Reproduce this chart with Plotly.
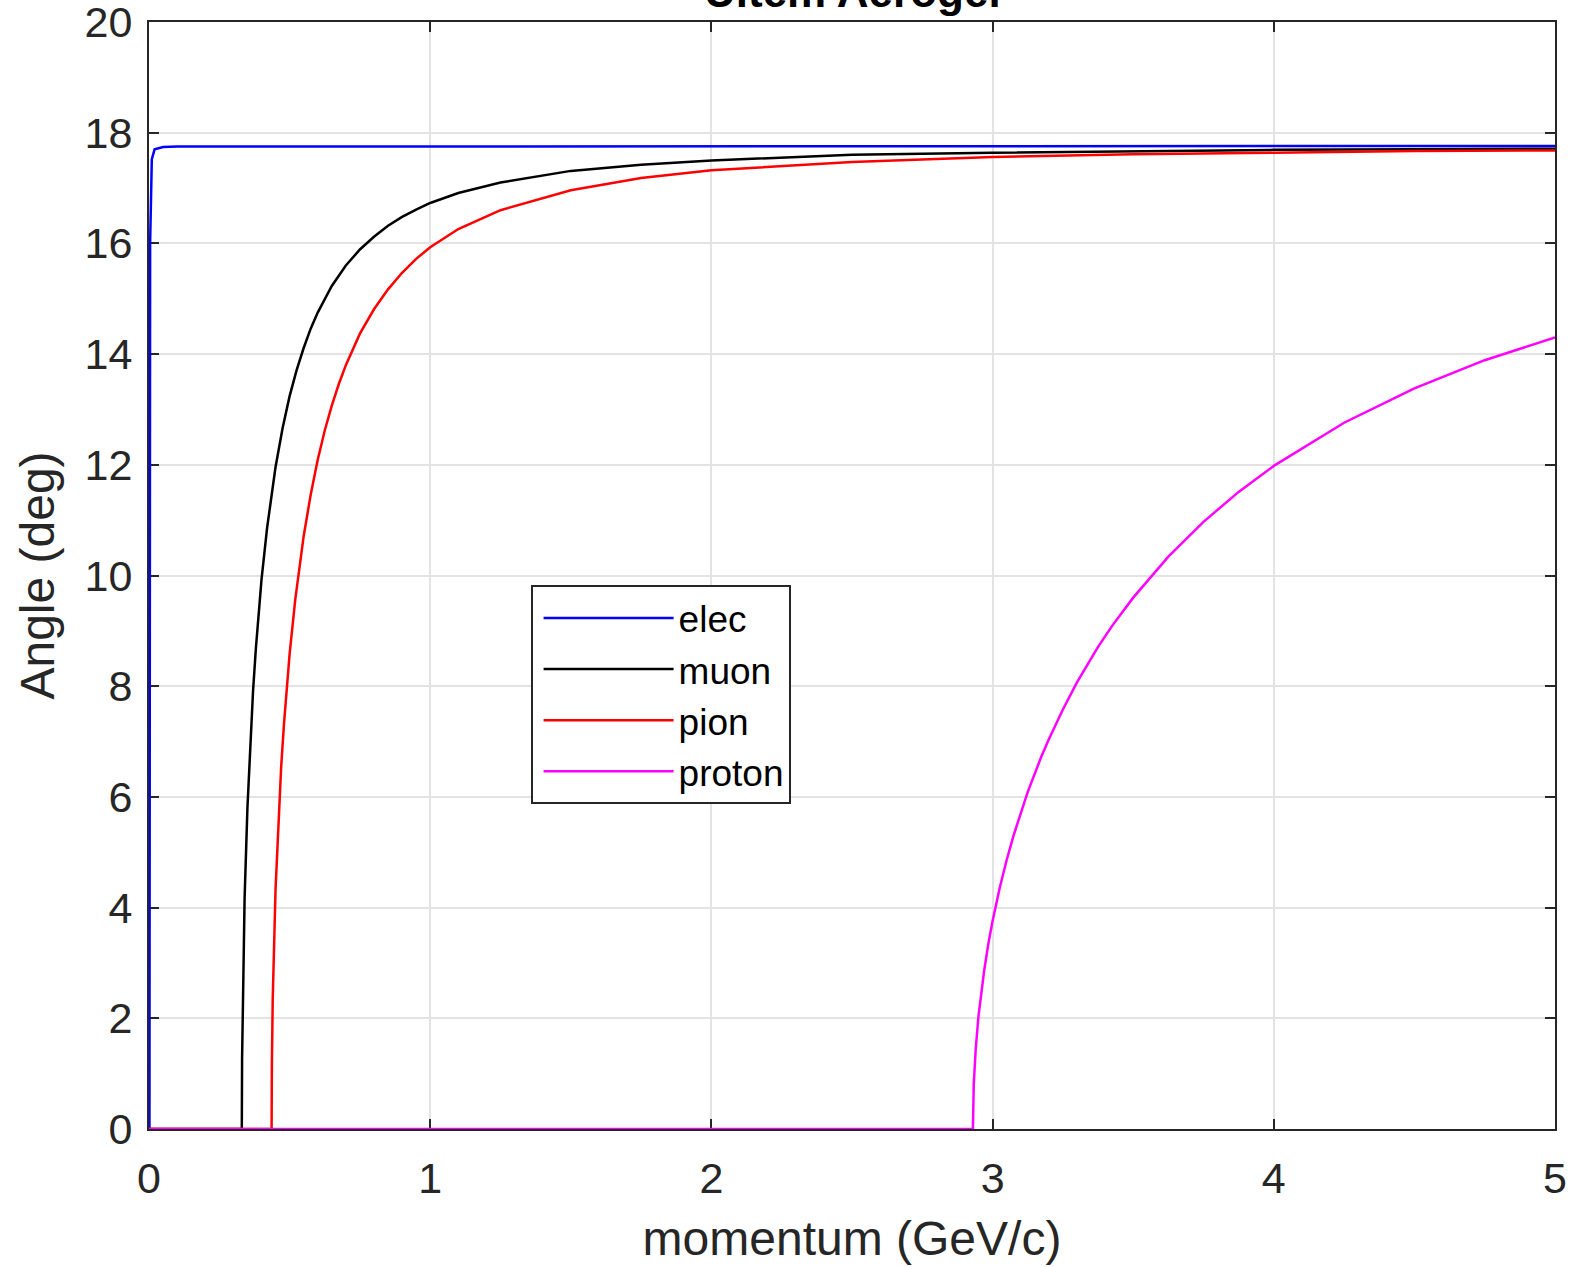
import plotly.graph_objects as go

# ---- data ----
elec_p = [0, 0.0016, 0.004, 0.01, 0.02, 0.05, 0.1, 5.0]
elec_angle = [0, 0, 16.0, 17.52, 17.7, 17.74, 17.75, 17.76]

muon_p = [0, 0.33, 0.331, 0.335, 0.34, 0.35, 0.36, 0.37, 0.38, 0.4, 0.42, 0.45, 0.475, 0.5, 0.525,
          0.55, 0.575, 0.6, 0.65, 0.7, 0.75, 0.8, 0.85, 0.9, 0.95, 1.0, 1.1, 1.25, 1.5, 1.75, 2.0,
          2.5, 3.0, 3.5, 4.0, 4.5, 5.0]
muon_angle = [0, 0, 1.26, 2.95, 4.18, 5.80, 6.98, 7.91, 8.68, 9.92, 10.86, 11.96, 12.66, 13.24,
              13.71, 14.11, 14.46, 14.75, 15.23, 15.60, 15.89, 16.12, 16.32, 16.48, 16.61, 16.73,
              16.91, 17.10, 17.31, 17.42, 17.50, 17.60, 17.64, 17.67, 17.69, 17.70, 17.71]

pion_p = [0, 0.436, 0.437, 0.44, 0.45, 0.46, 0.47, 0.48, 0.5, 0.52, 0.55, 0.575, 0.6, 0.625, 0.65,
          0.675, 0.7, 0.75, 0.8, 0.85, 0.9, 0.95, 1.0, 1.1, 1.25, 1.5, 1.75, 2.0, 2.5, 3.0, 3.5,
          4.0, 4.5, 5.0]
pion_angle = [0, 0, 1.15, 2.35, 4.33, 5.57, 6.54, 7.32, 8.58, 9.56, 10.71, 11.46, 12.09, 12.62,
              13.07, 13.46, 13.80, 14.37, 14.81, 15.17, 15.47, 15.72, 15.93, 16.26, 16.60, 16.96,
              17.18, 17.32, 17.47, 17.56, 17.61, 17.64, 17.67, 17.68]

proton_p = [0, 2.93, 2.933, 2.94, 2.95, 2.97, 2.985, 3.0, 3.025, 3.05, 3.075, 3.1, 3.125, 3.175,
            3.2, 3.25, 3.3, 3.375, 3.425, 3.5, 3.625, 3.75, 3.875, 4.0, 4.25, 4.5, 4.75, 5.0]
proton_angle = [0, 0, 0.81, 1.45, 2.05, 2.86, 3.35, 3.76, 4.35, 4.86, 5.31, 5.72, 6.09, 6.75,
                7.04, 7.58, 8.07, 8.71, 9.09, 9.60, 10.34, 10.97, 11.51, 11.98, 12.76, 13.38,
                13.89, 14.30]

series_names = ["elec", "muon", "pion", "proton"]
series_colors = ["#0000ff", "#000000", "#ff0000", "#ff00ff"]
series_x = [elec_p, muon_p, pion_p, proton_p]
series_y = [elec_angle, muon_angle, pion_angle, proton_angle]

x_ticks = [0, 1, 2, 3, 4, 5]
y_ticks = [0, 2, 4, 6, 8, 10, 12, 14, 16, 18, 20]

title_text = "Ultem Aerogel"
x_title = "momentum (GeV/c)"
y_title = "Angle (deg)"

FONT = "Liberation Sans, Arial, sans-serif"
AXC = "#262626"

fig = go.Figure()
for name, col, xs, ys in zip(series_names, series_colors, series_x, series_y):
    fig.add_trace(go.Scatter(x=xs, y=ys, mode="lines", name=name, cliponaxis=False,
                             line=dict(color=col, width=2.5)))

axis_common = dict(
    showline=True, linecolor=AXC, linewidth=2, mirror="ticks",
    ticks="inside", ticklen=10, tickwidth=2, tickcolor=AXC,
    showgrid=True, gridcolor="#e3e3e3", gridwidth=2,
    zeroline=False, automargin=False, layer="below traces",
    ticklabeloverflow="allow",
    tickfont=dict(family=FONT, size=43, color=AXC),
)

fig.update_layout(
    width=1575, height=1267,
    margin=dict(l=149, r=20, t=22, b=138, autoexpand=False),
    paper_bgcolor="white", plot_bgcolor="white",
    font=dict(family=FONT, color=AXC),
    showlegend=True,
    legend=dict(
        x=0.2714, y=0.491, xanchor="left", yanchor="top",
        bgcolor="white", bordercolor=AXC, borderwidth=2,
        font=dict(family=FONT, size=37, color="#000000"),
        itemwidth=130, tracegroupgap=0, indentation=6,
    ),
    xaxis=dict(range=[0, 5], tickvals=x_ticks, ticktext=[str(v) for v in x_ticks],
               ticklabelstandoff=10,
               title=dict(text=x_title, font=dict(family=FONT, size=48, color=AXC), standoff=21),
               **axis_common),
    yaxis=dict(range=[0, 20], tickvals=y_ticks, ticktext=[str(v) for v in y_ticks],
               ticklabelstandoff=6,
               title=dict(text=y_title, font=dict(family=FONT, size=48, color=AXC), standoff=15),
               **axis_common),
    annotations=[dict(text="<b>" + title_text + "</b>", xref="paper", yref="paper",
                      x=0.5, y=1.028, xanchor="center", yanchor="middle", showarrow=False,
                      font=dict(family=FONT, size=44, color="#000000"))],
)

fig.write_html("out.html", config={"displayModeBar": False},
               post_script="document.body.style.margin='0px';document.body.style.overflow='hidden';")
